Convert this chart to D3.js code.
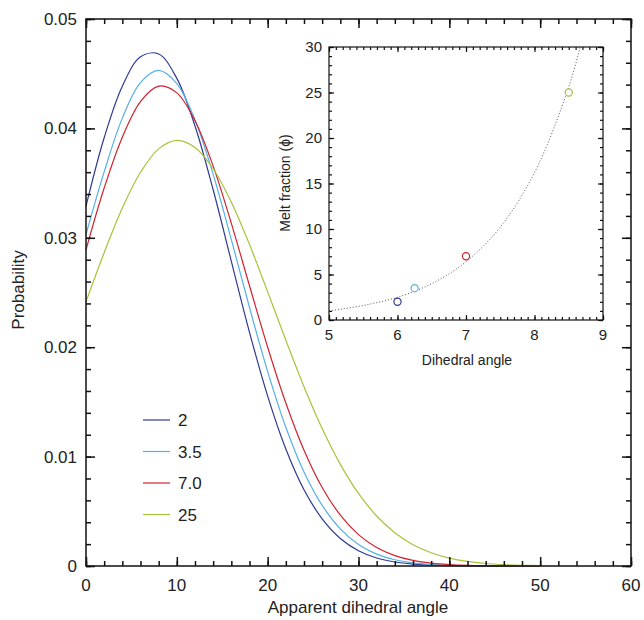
<!DOCTYPE html>
<html>
<head>
<meta charset="utf-8">
<script src="https://cdn.jsdelivr.net/npm/d3@7"></script>
<style>
body{margin:0;background:#fff;}
text{font-family:"Liberation Sans",Arial,sans-serif;fill:#222;}
</style>
</head>
<body>
<svg id="chart" width="644" height="620"></svg>
<script>
// main panel data (every 2 degrees)
var angleX = [0,2,4,6,8,10,12,14,16,18,20,22,24,26,28,30,32,34,36,38,40,42,44,46,48,50];
var prob2 = [0.0329,0.03915,0.04386,0.04654,0.04680,0.04457,0.04022,0.03439,0.02785,0.02136,0.01553,0.01069,0.00697,0.00431,0.00252,0.00140,0.000735,0.000366,0.000173,0.000077,0.000033,0.000013,0.000005,0.000002,0,0];
var prob35 = [0.0303,0.03602,0.04094,0.04419,0.04530,0.04410,0.04077,0.03580,0.02984,0.02363,0.01777,0.01269,0.00860,0.00554,0.00339,0.00197,0.00109,0.000569,0.000283,0.000134,0.00006,0.000026,0.00001,0.000004,0,0];
var prob7 = [0.0289,0.03455,0.03920,0.04245,0.04386,0.04325,0.04070,0.03655,0.03132,0.02562,0.02000,0.01490,0.01059,0.00718,0.00465,0.00287,0.00169,0.000954,0.000512,0.000262,0.000128,0.00006,0.000027,0.000011,0.000004,0];
var prob25 = [0.02415,0.02864,0.03272,0.03599,0.03813,0.03890,0.03825,0.03631,0.03325,0.02939,0.02506,0.02063,0.01639,0.01256,0.00929,0.00663,0.00457,0.00304,0.00195,0.00121,0.00072,0.000415,0.000231,0.000124,0.000064,0.000032];
var seriesNames = ["2","3.5","7.0","25"];
var seriesColors = ["#2f3a92","#55b0e6","#d1232f","#a9c23a"];

// inset data
var insetAngle = [6,6.25,7,8.5];
var insetMelt = [2,3.5,7,25];
var fitAngle = [5,5.5,6,6.5,7,7.5,8,8.5,8.7];
var fitMelt = [1.0,1.6,2.5,4.0,6.4,10.2,16.2,25.6,31];

var xTicks = [0,10,20,30,40,50,60];
var yTicks = [0,0.01,0.02,0.03,0.04,0.05];

var svg = d3.select("#chart");

var x = d3.scaleLinear().domain([0,60]).range([86,631]);
var y = d3.scaleLinear().domain([0,0.05]).range([566,19]);

var allSeries = [prob2,prob35,prob7,prob25];

// curves
var line = d3.line()
    .x(function(d,i){return x(angleX[i]);})
    .y(function(d){return y(d);})
    .curve(d3.curveCatmullRom);

svg.append("g").selectAll("path")
    .data(allSeries)
    .enter()
    .append("path")
    .attr("d",function(d){return line(d);})
    .attr("fill","none")
    .attr("stroke",function(d,i){return seriesColors[i];})
    .attr("stroke-width",1.2);

// frame and ticks, all pointing in
function minorTicks(scale,step){
    var out = [];
    var dom = scale.domain();
    var n = Math.round((dom[1]-dom[0])/step);
    for(let i=0;i<=n;i++){ out.push(dom[0]+i*step); }
    return out;
}

function drawFrame(g,xs,ys,xMajor,xMinorStep,yMajor,yMinorStep,bigTick,smallTick,width){
    var x0 = xs.range()[0], x1 = xs.range()[1], y0 = ys.range()[0], y1 = ys.range()[1];
    g.append("g").attr("transform","translate(0,"+y0+")")
        .call(d3.axisBottom(xs).tickValues(minorTicks(xs,xMinorStep)).tickSize(-smallTick).tickFormat(""));
    g.append("g").attr("transform","translate(0,"+y0+")")
        .call(d3.axisBottom(xs).tickValues(xMajor).tickSize(-bigTick).tickFormat(""));
    g.append("g").attr("transform","translate(0,"+y1+")")
        .call(d3.axisTop(xs).tickValues(minorTicks(xs,xMinorStep)).tickSize(-smallTick).tickFormat(""));
    g.append("g").attr("transform","translate(0,"+y1+")")
        .call(d3.axisTop(xs).tickValues(xMajor).tickSize(-bigTick).tickFormat(""));
    g.append("g").attr("transform","translate("+x0+",0)")
        .call(d3.axisLeft(ys).tickValues(minorTicks(ys,yMinorStep)).tickSize(-smallTick).tickFormat(""));
    g.append("g").attr("transform","translate("+x0+",0)")
        .call(d3.axisLeft(ys).tickValues(yMajor).tickSize(-bigTick).tickFormat(""));
    g.append("g").attr("transform","translate("+x1+",0)")
        .call(d3.axisRight(ys).tickValues(minorTicks(ys,yMinorStep)).tickSize(-smallTick).tickFormat(""));
    g.append("g").attr("transform","translate("+x1+",0)")
        .call(d3.axisRight(ys).tickValues(yMajor).tickSize(-bigTick).tickFormat(""));
    g.selectAll(".domain").remove();
    g.selectAll(".tick line").attr("stroke","#111").attr("stroke-width",width);
    g.append("rect")
        .attr("x",x0).attr("y",y1)
        .attr("width",x1-x0).attr("height",y0-y1)
        .attr("fill","none").attr("stroke","#111").attr("stroke-width",width);
}

var mainFrame = svg.append("g");
drawFrame(mainFrame,x,y,xTicks,2,yTicks,0.002,9,5,1.5);

// tick labels
svg.append("g").selectAll("text")
    .data(xTicks)
    .enter()
    .append("text")
    .attr("x",function(d){return x(d);})
    .attr("y",591)
    .attr("text-anchor","middle")
    .attr("font-size","17px")
    .text(function(d){return d;});

svg.append("g").selectAll("text")
    .data(yTicks)
    .enter()
    .append("text")
    .attr("x",77)
    .attr("y",function(d){return y(d)+6;})
    .attr("text-anchor","end")
    .attr("font-size","17px")
    .text(function(d){return d==0 ? "0" : d.toFixed(2);});

svg.append("text")
    .attr("x",358).attr("y",613)
    .attr("text-anchor","middle")
    .attr("font-size","17px")
    .text("Apparent dihedral angle");

svg.append("text")
    .attr("transform","translate(24,290) rotate(-90)")
    .attr("text-anchor","middle")
    .attr("font-size","17px")
    .text("Probability");

// legend
var legend = svg.append("g").selectAll("g")
    .data(seriesNames)
    .enter()
    .append("g")
    .attr("transform",function(d,i){return "translate(143,"+(420+31.5*i)+")";});
legend.append("line")
    .attr("x1",0).attr("x2",27)
    .attr("stroke",function(d,i){return seriesColors[i];})
    .attr("stroke-width",1.2);
legend.append("text")
    .attr("x",35).attr("y",6)
    .attr("font-size","17px")
    .text(function(d){return d;});

// inset
var ix = d3.scaleLinear().domain([5,9]).range([329,603]);
var iy = d3.scaleLinear().domain([0,30]).range([320,47]);

var inset = svg.append("g");
inset.append("rect")
    .attr("x",329).attr("y",47).attr("width",274).attr("height",273)
    .attr("fill","#fff");

inset.append("clipPath").attr("id","insetClip")
    .append("rect")
    .attr("x",329).attr("y",47).attr("width",274).attr("height",273);

var fitLine = d3.line()
    .x(function(d,i){return ix(fitAngle[i]);})
    .y(function(d){return iy(d);})
    .curve(d3.curveCatmullRom);

inset.append("path")
    .attr("d",fitLine(fitMelt))
    .attr("clip-path","url(#insetClip)")
    .attr("fill","none")
    .attr("stroke","#444")
    .attr("stroke-width",0.9)
    .attr("stroke-dasharray","1,2");

inset.selectAll("circle")
    .data(insetMelt)
    .enter()
    .append("circle")
    .attr("cx",function(d,i){return ix(insetAngle[i]);})
    .attr("cy",function(d){return iy(d);})
    .attr("r",3.6)
    .attr("fill","#fff")
    .attr("stroke",function(d,i){return seriesColors[i];})
    .attr("stroke-width",1.2);

drawFrame(inset.append("g"),ix,iy,[5,6,7,8,9],0.1,[0,5,10,15,20,25,30],1,5,3,1.2);

inset.append("g").selectAll("text")
    .data([5,6,7,8,9])
    .enter()
    .append("text")
    .attr("x",function(d){return ix(d);})
    .attr("y",340)
    .attr("text-anchor","middle")
    .attr("font-size","15px")
    .text(function(d){return d;});

inset.append("g").selectAll("text")
    .data([0,5,10,15,20,25,30])
    .enter()
    .append("text")
    .attr("x",322)
    .attr("y",function(d){return iy(d)+5;})
    .attr("text-anchor","end")
    .attr("font-size","15px")
    .text(function(d){return d;});

inset.append("text")
    .attr("x",467).attr("y",365)
    .attr("text-anchor","middle")
    .attr("font-size","14px")
    .text("Dihedral angle");

inset.append("text")
    .attr("transform","translate(290,183) rotate(-90)")
    .attr("text-anchor","middle")
    .attr("font-size","14px")
    .text("Melt fraction (\u03d5)");
</script>
</body>
</html>
